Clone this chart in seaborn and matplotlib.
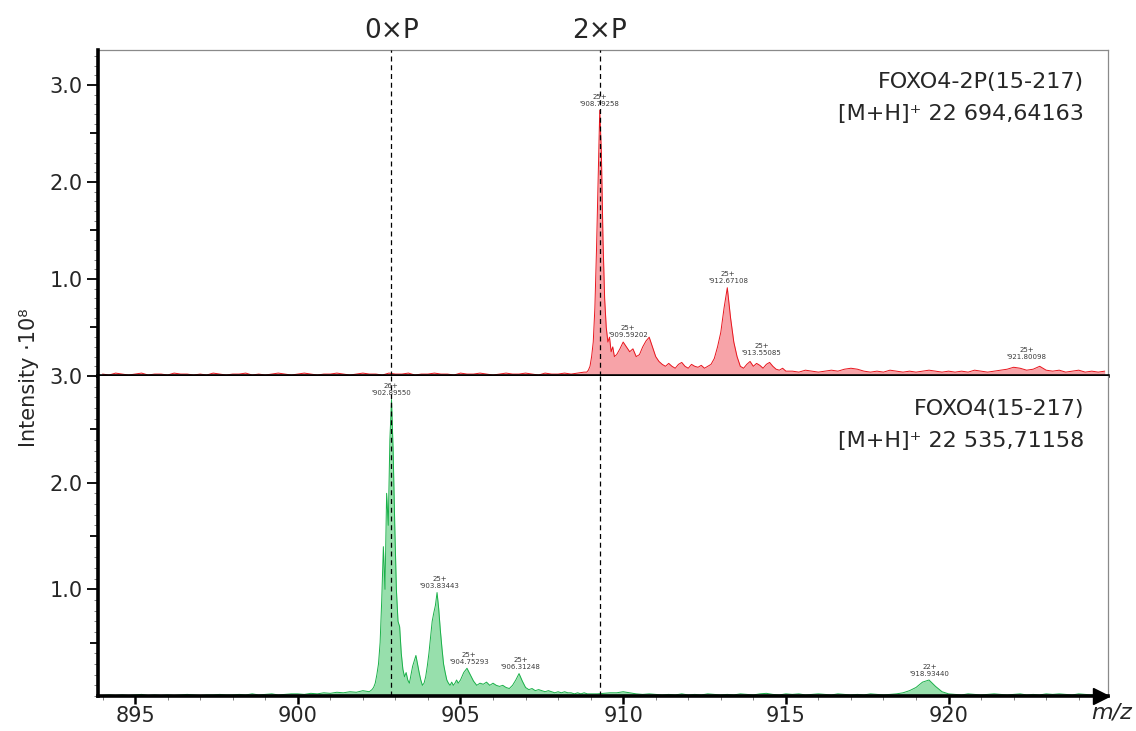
import numpy as np
import pandas as pd
import matplotlib
matplotlib.use("Agg")
import matplotlib.pyplot as plt
import matplotlib.transforms as mtransforms
from matplotlib.ticker import FixedLocator, MultipleLocator, FuncFormatter
import seaborn as sns

# ------------------------------------------------------------------ data
# top spectrum (FOXO4-2P), intensity in 1e8 units, segments on an m/z grid
red_a_start, red_a_step = 894.0, 0.2
red_a = [0.02, 0.01, 0.03, 0.02, 0.01, 0.02, 0.03, 0.01, 0.02, 0.02,
         0.01, 0.03, 0.02, 0.02, 0.01, 0.02, 0.01, 0.03, 0.02, 0.01,
         0.02, 0.02, 0.03, 0.01, 0.02, 0.01, 0.02, 0.03, 0.02, 0.01,
         0.02, 0.03, 0.02, 0.01, 0.02, 0.02, 0.03, 0.02, 0.01, 0.02,
         0.03, 0.02, 0.02, 0.01, 0.03, 0.02, 0.02, 0.03, 0.01, 0.02,
         0.02, 0.03, 0.02, 0.02, 0.01, 0.03, 0.02, 0.02, 0.03, 0.02,
         0.01, 0.02, 0.03, 0.02, 0.02, 0.03, 0.02, 0.01, 0.03, 0.02,
         0.02, 0.03, 0.02, 0.03, 0.04]
red_b_start, red_b_step = 908.88, 0.05
red_b = [0.04, 0.06, 0.10, 0.20, 0.35, 0.70, 1.30, 2.00, 2.74, 2.30,
         1.40, 0.80, 0.50, 0.35, 0.40, 0.25, 0.30, 0.20]
red_c_start, red_c_step = 909.8, 0.1
red_c = [0.22, 0.28, 0.35, 0.30, 0.25, 0.28, 0.20, 0.22, 0.30, 0.36,
         0.40, 0.30, 0.20, 0.15, 0.12, 0.10, 0.13, 0.10, 0.08, 0.12,
         0.14, 0.10, 0.08, 0.12, 0.10, 0.09, 0.11, 0.08, 0.10, 0.12,
         0.18, 0.30, 0.45, 0.70, 0.91, 0.60, 0.35, 0.20, 0.10, 0.08,
         0.12, 0.15, 0.10, 0.13, 0.11, 0.08, 0.12, 0.14, 0.10, 0.07,
         0.06, 0.08, 0.05]
red_d_start, red_d_step = 915.2, 0.2
red_d = [0.05, 0.04, 0.06, 0.05, 0.04, 0.05, 0.06, 0.05, 0.07, 0.08,
         0.07, 0.05, 0.04, 0.05, 0.04, 0.06, 0.05, 0.04, 0.05, 0.04,
         0.05, 0.06, 0.05, 0.04, 0.05, 0.04, 0.05, 0.04, 0.06, 0.05,
         0.04, 0.05, 0.06, 0.07, 0.09, 0.08, 0.06, 0.07, 0.10, 0.06,
         0.05, 0.06, 0.04, 0.05, 0.06, 0.04, 0.05, 0.04, 0.05]

# bottom spectrum (FOXO4)
green_a_start, green_a_step = 894.0, 0.2
green_a = [0.005, 0.01, 0.005, 0.01, 0.005, 0.01, 0.015, 0.005, 0.01, 0.005,
           0.01, 0.005, 0.01, 0.015, 0.01, 0.005, 0.01, 0.01, 0.015, 0.01,
           0.01, 0.015, 0.01, 0.02, 0.01, 0.015, 0.02, 0.01, 0.015, 0.02,
           0.02, 0.015, 0.025, 0.02, 0.03, 0.025, 0.035, 0.03, 0.04, 0.035,
           0.05, 0.04]
green_b_start, green_b_step = 902.28, 0.05
green_b = [0.06, 0.08, 0.12, 0.20, 0.30, 0.50, 0.90, 1.40, 1.00, 1.90,
           1.60, 2.40, 2.78, 2.30, 1.60, 1.00, 0.70, 0.65, 0.40, 0.25]
green_c_start, green_c_step = 903.28, 0.05
green_c = [0.18, 0.22, 0.15, 0.12, 0.20, 0.28, 0.33, 0.38, 0.30, 0.22,
           0.15, 0.10, 0.12, 0.18, 0.28, 0.40, 0.55, 0.70, 0.78, 0.85,
           0.97, 0.82, 0.62, 0.45, 0.30, 0.22, 0.15, 0.12, 0.10, 0.13,
           0.10, 0.12, 0.15, 0.12]
green_d_start, green_d_step = 905.0, 0.1
green_d = [0.15, 0.22, 0.26, 0.20, 0.14, 0.10, 0.12, 0.11, 0.13, 0.10,
           0.12, 0.10, 0.09, 0.10, 0.08, 0.07, 0.10, 0.15, 0.21, 0.14,
           0.08, 0.06, 0.07, 0.05, 0.06, 0.05, 0.04, 0.05, 0.04, 0.03,
           0.04, 0.03, 0.04, 0.03, 0.03, 0.02, 0.03, 0.02, 0.03, 0.02,
           0.02]
green_e_start, green_e_step = 909.2, 0.2
green_e = [0.02, 0.025, 0.03, 0.03, 0.04, 0.03, 0.02, 0.015, 0.02, 0.015,
           0.01, 0.015, 0.01, 0.02, 0.01, 0.015, 0.01, 0.02, 0.015, 0.01,
           0.015, 0.01, 0.02, 0.015, 0.01, 0.02, 0.025, 0.015, 0.01, 0.02,
           0.015, 0.02, 0.01, 0.015, 0.02, 0.015, 0.01, 0.02, 0.015, 0.01,
           0.015, 0.01, 0.02, 0.015, 0.01, 0.015, 0.02, 0.03, 0.05, 0.08,
           0.13, 0.15, 0.09, 0.04, 0.02, 0.015, 0.01, 0.02, 0.015, 0.01,
           0.015, 0.02, 0.015, 0.01, 0.015, 0.02, 0.01, 0.015, 0.01, 0.02,
           0.015, 0.02, 0.015, 0.01, 0.02, 0.015, 0.01, 0.015, 0.01]

# peak annotations
red_label_mz = [909.28, 910.15, 913.22, 914.25, 922.40]
red_label_int = [2.74, 0.36, 0.91, 0.17, 0.13]
red_label_charge = ["25+", "25+", "25+", "25+", "25+"]
red_label_text = ["908.79258", "909.59202", "912.67108", "913.55085", "921.80098"]

green_label_mz = [902.86, 904.36, 905.26, 906.84, 919.42]
green_label_int = [2.78, 0.97, 0.26, 0.21, 0.15]
green_label_charge = ["26+", "25+", "25+", "25+", "22+"]
green_label_text = ["902.89550", "903.83443", "904.75293", "906.31248", "918.93440"]

marker_mz = [902.88, 909.28]
marker_text = ["0\u00d7P", "2\u00d7P"]

top_title = ["FOXO4-2P(15-217)", "[M+H]\u207a 22 694,64163"]
bottom_title = ["FOXO4(15-217)", "[M+H]\u207a 22 535,71158"]

x_ticks = [895, 900, 905, 910, 915, 920]
y_ticks = [0.5, 1.0, 1.5, 2.0, 2.5, 3.0]

# ------------------------------------------------------------------ helpers
def build(segments):
    mz, it = [], []
    for start, step, vals in segments:
        mz.append(start + step * np.arange(len(vals)))
        it.append(np.asarray(vals, dtype=float))
    return pd.DataFrame({"mz": np.concatenate(mz), "intensity": np.concatenate(it)})

red_df = build([(red_a_start, red_a_step, red_a), (red_b_start, red_b_step, red_b),
                (red_c_start, red_c_step, red_c), (red_d_start, red_d_step, red_d)])
green_df = build([(green_a_start, green_a_step, green_a), (green_b_start, green_b_step, green_b),
                  (green_c_start, green_c_step, green_c), (green_d_start, green_d_step, green_d),
                  (green_e_start, green_e_step, green_e)])

sns.set_style("ticks")
plt.rcParams["font.family"] = ["DejaVu Sans"]

W, H = 1136, 731
fig = plt.figure(figsize=(W / 100, H / 100), dpi=100)
left, right = 98 / W, 1108 / W
ax_top = fig.add_axes([left, 1 - 376 / H, right - left, (376 - 50) / H])
ax_bot = fig.add_axes([left, 1 - 696 / H, right - left, (696 - 376) / H])

XLIM = (893.86, 924.9)

def draw(ax, df, line_col, fill_col, ymax):
    ax.fill_between(df["mz"], 0, df["intensity"], color=fill_col, lw=0, zorder=1)
    sns.lineplot(data=df, x="mz", y="intensity", ax=ax, color=line_col, lw=0.7,
                 zorder=2, legend=False)
    ax.set_xlim(*XLIM)
    ax.set_ylim(0, ymax)
    ax.set_xlabel("")
    ax.set_ylabel("")
    for m in marker_mz:
        ax.axvline(m, color="black", lw=0.9, ls=(0, (4, 3)), zorder=4)
    ax.yaxis.set_major_locator(FixedLocator(y_ticks))
    ax.yaxis.set_minor_locator(MultipleLocator(0.1))
    ax.yaxis.set_major_formatter(FuncFormatter(
        lambda v, p: f"{v:.1f}" if abs(v - round(v)) < 1e-6 else ""))
    ax.tick_params(axis="y", which="major", length=8, width=1.3, color="black",
                   labelsize=15, pad=3)
    ax.tick_params(axis="y", which="minor", length=3, width=0.7, color="#808080")
    for t in ax.yaxis.get_major_ticks():
        if abs(t.get_loc() - round(t.get_loc())) > 1e-6:
            t.tick1line.set_markersize(5.5)
    ax.spines["left"].set_linewidth(2.6)
    ax.spines["left"].set_color("black")
    ax.spines["bottom"].set_linewidth(2.6)
    ax.spines["bottom"].set_color("black")
    ax.spines["right"].set_linewidth(0.9)
    ax.spines["right"].set_color("#8a8a8a")
    ax.spines["left"].set_zorder(5)
    ax.spines["bottom"].set_zorder(5)

draw(ax_top, red_df, "#e8141c", "#f7a3a8", 3.36)
draw(ax_bot, green_df, "#19b048", "#97dfac", 3.0)

ax_top.spines["top"].set_linewidth(0.9)
ax_top.spines["top"].set_color("#8a8a8a")
ax_bot.spines["top"].set_visible(False)

ax_top.tick_params(axis="x", which="both", bottom=False, labelbottom=False)
ax_bot.xaxis.set_major_locator(FixedLocator(x_ticks))
ax_bot.xaxis.set_minor_locator(MultipleLocator(1))
ax_bot.tick_params(axis="x", which="major", length=6, width=1.8, color="black",
                   labelsize=15, pad=1.5)
ax_bot.tick_params(axis="x", which="minor", length=3, width=0.7, color="#808080")

# arrow at end of m/z axis
arrow_tr = ax_bot.transAxes + mtransforms.ScaledTranslation(-5 / 72, 0, fig.dpi_scale_trans)
ax_bot.plot([1.0], [0.0], marker=">", markersize=11, color="black", transform=arrow_tr,
            clip_on=False, zorder=6)
fig.text(1112 / W, 1 - 712 / H, "m/z", fontsize=16, style="italic", ha="center", va="center")

# peak labels
def label(ax, xs, ys, charges, texts):
    for x, y, c, t in zip(xs, ys, charges, texts):
        ax.annotate(f"{c}\n'{t}", xy=(x, y), xytext=(0, 2.5), textcoords="offset points",
                    ha="center", va="bottom", fontsize=5, color="#3a3a3a",
                    linespacing=1.15, zorder=6)

label(ax_top, red_label_mz, red_label_int, red_label_charge, red_label_text)
label(ax_bot, green_label_mz, green_label_int, green_label_charge, green_label_text)

# phosphorylation markers
tr = mtransforms.blended_transform_factory(ax_top.transData, ax_top.transAxes)
for m, t in zip(marker_mz, marker_text):
    ax_top.text(m, (376 - 31) / 326, t, transform=tr, ha="center", va="center",
                fontsize=19, clip_on=False)

# titles in panels
for ax, lines, ys in [(ax_top, top_title, [(376 - 82) / 326, (376 - 114) / 326]),
                      (ax_bot, bottom_title, [(696 - 409) / 320, (696 - 441) / 320])]:
    for line, y in zip(lines, ys):
        ax.text((1084 - 98) / 1010, y, line, transform=ax.transAxes, ha="right",
                va="center", fontsize=16)

fig.text(29 / W, 1 - 378 / H, "Intensity \u00b710\u2078", rotation=90, ha="center",
         va="center", fontsize=15)

fig.savefig("out.png", dpi=100)
